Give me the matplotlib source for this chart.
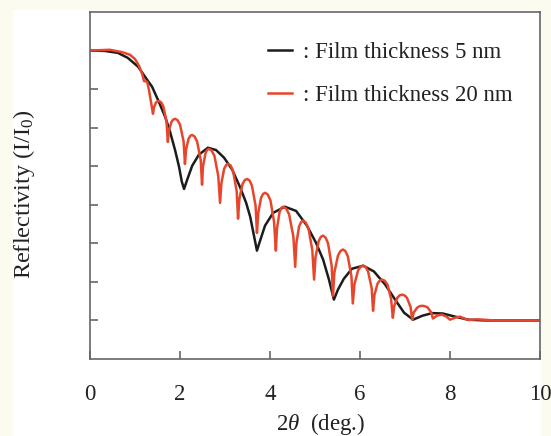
import matplotlib
matplotlib.use("Agg")
import matplotlib.pyplot as plt
from matplotlib.patches import Rectangle

# ---- data (log10 reflectivity) ----
theta_5nm = [0.00, 0.33, 0.62, 0.84, 1.07, 1.24, 1.38, 1.53, 1.67, 1.78, 1.89, 1.98,
             2.04, 2.09, 2.16, 2.27, 2.42, 2.62, 2.80, 2.98, 3.16, 3.33, 3.47, 3.56,
             3.64, 3.71, 3.78, 3.89, 4.07, 4.33, 4.58, 4.82, 5.02, 5.18, 5.31, 5.42,
             5.51, 5.64, 5.82, 6.07, 6.31, 6.56, 6.78, 6.98, 7.18, 7.38, 7.60, 7.84,
             8.11, 8.40, 8.78, 10.00]
logR_5nm = [0.00, -0.01, -0.06, -0.19, -0.42, -0.71, -0.94, -1.33, -1.72, -2.11, -2.58, -3.02,
            -3.40, -3.59, -3.35, -2.99, -2.70, -2.52, -2.58, -2.78, -3.09, -3.53, -3.95, -4.31,
            -4.78, -5.19, -4.93, -4.54, -4.21, -4.05, -4.16, -4.54, -4.98, -5.42, -5.94, -6.46,
            -6.20, -5.92, -5.66, -5.58, -5.73, -6.07, -6.46, -6.80, -6.98, -6.88, -6.81, -6.82,
            -6.90, -6.98, -7.00, -7.00]

theta_20nm = [0.00, 0.44, 0.71, 0.89, 1.00, 1.09, 1.16, 1.20, 1.27, 1.31, 1.36,
              1.40, 1.42, 1.465, 1.50, 1.53, 1.58, 1.63, 1.70,
              1.73, 1.755, 1.81, 1.85, 1.89, 1.945, 2.00, 2.08,
              2.11, 2.135, 2.19, 2.23, 2.27, 2.325, 2.38, 2.46,
              2.49, 2.51, 2.565, 2.60, 2.64, 2.70, 2.765, 2.85,
              2.89, 2.92, 2.98, 3.025, 3.07, 3.125, 3.18, 3.26,
              3.29, 3.32, 3.39, 3.44, 3.49, 3.545, 3.60, 3.68,
              3.71, 3.74, 3.80, 3.845, 3.89, 3.95, 4.01, 4.09,
              4.13, 4.155, 4.21, 4.25, 4.29, 4.36, 4.425, 4.52,
              4.56, 4.585, 4.645, 4.69, 4.73, 4.79, 4.855, 4.94,
              4.98, 5.01, 5.08, 5.13, 5.18, 5.235, 5.29, 5.37,
              5.40, 5.43, 5.51, 5.565, 5.62, 5.675, 5.73, 5.81,
              5.84, 5.875, 5.955, 6.01, 6.07, 6.125, 6.18, 6.26,
              6.29, 6.32, 6.39, 6.44, 6.49, 6.55, 6.61, 6.69,
              6.73, 6.76, 6.83, 6.88, 6.93, 6.99, 7.045, 7.125,
              7.16, 7.19, 7.27, 7.325, 7.38, 7.44, 7.50, 7.58,
              7.62, 7.72, 7.82, 7.92, 8.00, 8.11, 8.22, 8.32, 8.40, 8.60, 9.00, 10.00]
logR_20nm = [0.00, 0.02, -0.04, -0.11, -0.22, -0.40, -0.61, -0.79, -0.81, -1.02, -1.36,
             -1.64, -1.48, -1.35, -1.32, -1.31, -1.34, -1.45, -1.84,
             -2.37, -2.07, -1.85, -1.79, -1.77, -1.805, -1.92, -2.36,
             -2.94, -2.565, -2.29, -2.21, -2.19, -2.23, -2.36, -2.835,
             -3.48, -3.015, -2.67, -2.58, -2.55, -2.59, -2.73, -3.25,
             -3.95, -3.445, -3.07, -2.97, -2.94, -2.98, -3.125, -3.65,
             -4.36, -3.845, -3.46, -3.36, -3.33, -3.37, -3.51, -4.03,
             -4.73, -4.21, -3.825, -3.72, -3.69, -3.735, -3.885, -4.44,
             -5.19, -4.62, -4.20, -4.08, -4.05, -4.10, -4.25, -4.83,
             -5.61, -5.01, -4.566, -4.45, -4.41, -4.455, -4.61, -5.175,
             -5.94, -5.37, -4.95, -4.83, -4.80, -4.85, -5.00, -5.58,
             -6.36, -5.76, -5.32, -5.20, -5.16, -5.20, -5.34, -5.86,
             -6.56, -6.07, -5.71, -5.61, -5.58, -5.615, -5.73, -6.165,
             -6.75, -6.345, -6.045, -5.965, -5.94, -5.97, -6.07, -6.435,
             -6.93, -6.63, -6.41, -6.35, -6.33, -6.35, -6.415, -6.655,
             -6.98, -6.80, -6.67, -6.63, -6.62, -6.63, -6.66, -6.785,
             -6.95, -6.87, -6.85, -6.90, -6.98, -6.93, -6.90, -6.95, -6.99, -6.97, -7.00, -7.00]

x_ticks = [0, 2, 4, 6, 8, 10]
y_ticks = [-7, -6, -5, -4, -3, -2, -1, 0]
labels = [": Film thickness 5 nm", ": Film thickness 20 nm"]

plt.rcParams['font.family'] = ['Liberation Serif', 'DejaVu Serif']
plt.rcParams['mathtext.fontset'] = 'custom'
plt.rcParams['mathtext.rm'] = 'Liberation Serif'
plt.rcParams['mathtext.it'] = 'Liberation Serif:italic'
plt.rcParams['mathtext.bf'] = 'Liberation Serif:bold'

fig = plt.figure(figsize=(5.51, 4.36), dpi=100, facecolor='#fbfbf0')
fig.patches.append(Rectangle((13/551, 0), (541-13)/551, 1 - 10/436, transform=fig.transFigure,
                             facecolor='white', edgecolor='none', zorder=-10))
ax = fig.add_axes([90/551, 1 - 359/436, 450/551, 347/436])

black = '#1c1c1c'
red = '#e8462c'
l1, = ax.plot(theta_5nm, logR_5nm, color=black, lw=1.8, solid_joinstyle='round')
l2, = ax.plot(theta_20nm, logR_20nm, color=red, lw=1.8, solid_joinstyle='round')

ax.set_xlim(0, 10)
ax.set_ylim(-8, 1)
ax.set_xticks(x_ticks)
ax.set_xticklabels([str(t) for t in x_ticks])
ax.set_yticks(y_ticks)
ax.set_yticklabels([])
ax.tick_params(axis='x', direction='in', length=6, width=1.2, color='#666666',
               labelsize=16.5, pad=18, labelcolor='#222222')
ax.tick_params(axis='y', direction='in', length=6, width=1.2, color='#666666')
for s in ax.spines.values():
    s.set_color('#666666')
    s.set_linewidth(1.2)

ax.set_ylabel('Reflectivity (I/I$_0$)', fontsize=17.5, color='#222222')
ax.yaxis.set_label_coords(-0.118, 0.475)
ax.set_xlabel(r'2$\theta$  (deg.)', fontsize=16.5, color='#222222')
ax.xaxis.set_label_coords(0.513, -0.15)

ax.legend([l1, l2], labels, loc='upper left', bbox_to_anchor=(0.396, 0.914),
          frameon=False, fontsize=16.5, handlelength=1.05, handletextpad=0.45,
          labelspacing=0.95, borderaxespad=0, borderpad=0, labelcolor='#222222')

fig.savefig('out.png', dpi=100, facecolor=fig.get_facecolor())
